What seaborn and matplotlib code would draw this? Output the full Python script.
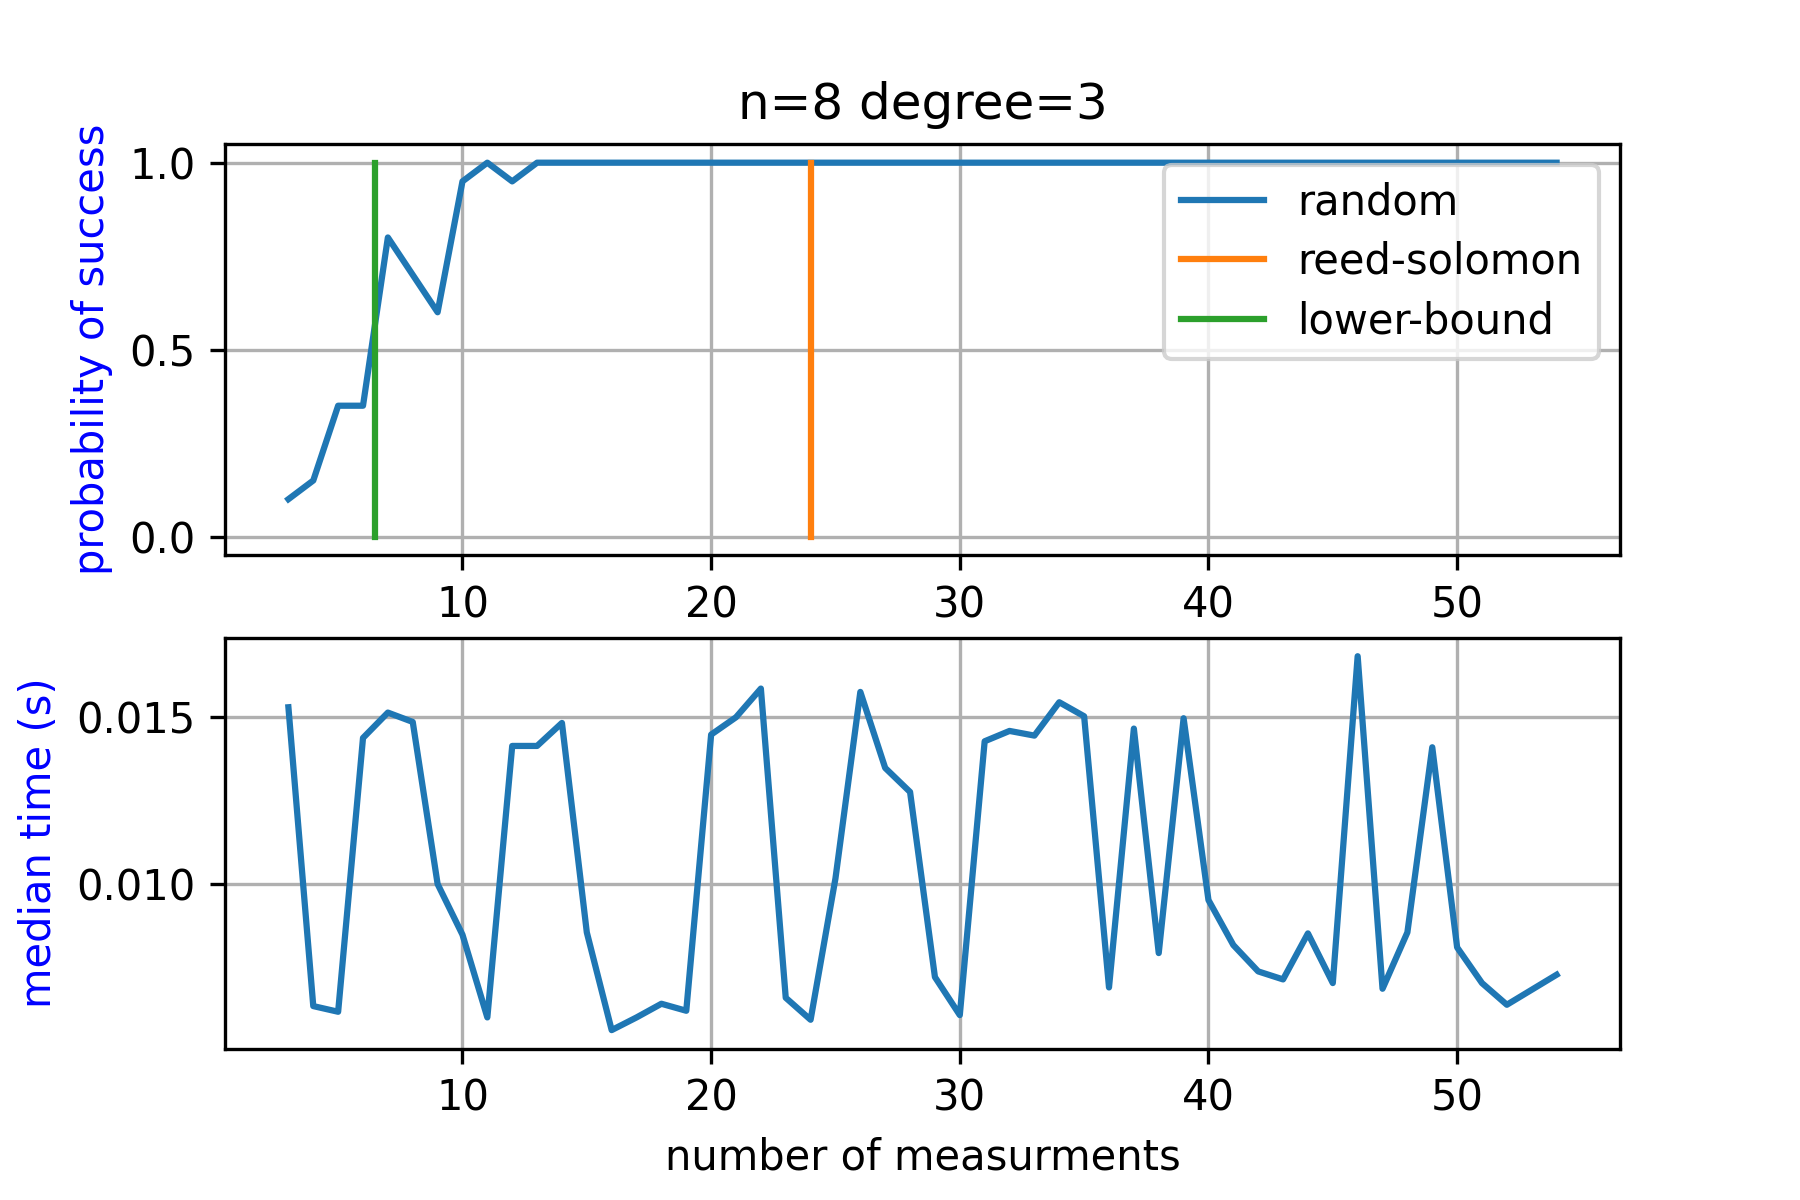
import matplotlib
matplotlib.use("Agg")
import matplotlib.pyplot as plt
import seaborn as sns
import pandas as pd

measurements = list(range(3, 55))
success_prob = [0.10, 0.15, 0.35, 0.35, 0.80, 0.70, 0.60, 0.95, 1.0, 0.95] + [1.0] * 42
median_time = [0.01530, 0.00634, 0.00617, 0.01438, 0.01514, 0.01486, 0.01000, 0.00848,
               0.00600, 0.01414, 0.01414, 0.01483, 0.00855, 0.00562, 0.00600, 0.00641,
               0.00620, 0.01448, 0.01500, 0.01586, 0.00659, 0.00593, 0.01017, 0.01576,
               0.01348, 0.01276, 0.00721, 0.00607, 0.01428, 0.01459, 0.01445, 0.01545,
               0.01503, 0.00690, 0.01466, 0.00793, 0.01497, 0.00952, 0.00817, 0.00738,
               0.00714, 0.00852, 0.00703, 0.01683, 0.00686, 0.00855, 0.01410, 0.00810,
               0.00703, 0.00638, 0.00683, 0.00728]
reed_solomon_x = 24
lower_bound_x = 6.5
bound_y = [0, 1]

title = "n=8 degree=3"
xlabel = "number of measurments"
ylabel_top = "probability of success"
ylabel_bottom = "median time (s)"

fig, (ax1, ax2) = plt.subplots(2, 1, figsize=(6, 4), dpi=300)
fig.subplots_adjust(bottom=0.126, top=0.88)

df = pd.DataFrame({"x": measurements, "p": success_prob, "t": median_time})
sns.lineplot(data=df, x="x", y="p", ax=ax1, color="C0", label="random",
             estimator=None, sort=False)
sns.lineplot(x=[reed_solomon_x, reed_solomon_x], y=bound_y, ax=ax1, color="C1",
             label="reed-solomon", estimator=None, sort=False)
sns.lineplot(x=[lower_bound_x, lower_bound_x], y=bound_y, ax=ax1, color="C2",
             label="lower-bound", estimator=None, sort=False)
ax1.set_title(title)
ax1.set_ylabel(ylabel_top, color="blue")
ax1.set_xlabel("")
ax1.grid(True)
ax1.legend(loc="upper right", labelspacing=0.42)

sns.lineplot(data=df, x="x", y="t", ax=ax2, color="C0", estimator=None, sort=False)
ax2.set_ylabel(ylabel_bottom, color="blue")
ax2.set_xlabel(xlabel)
ax2.grid(True)

fig.savefig("out.png", dpi=300)
